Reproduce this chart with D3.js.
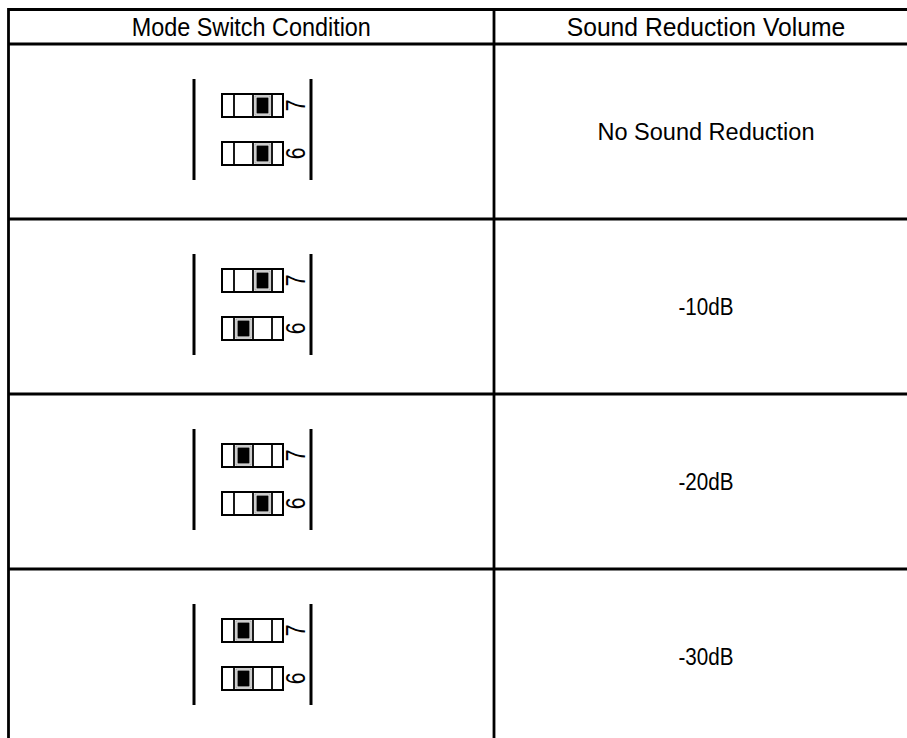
<!DOCTYPE html>
<html>
<head>
<meta charset="utf-8">
<script src="https://cdn.jsdelivr.net/npm/d3@7"></script>
<style>
  body { margin: 0; background: #fff; }
  svg { display: block; }
</style>
</head>
<body>
<div id="chart"></div>
<script>
// column headers
const headers = ["Mode Switch Condition", "Sound Reduction Volume"];
// switch 7 and switch 6 position per row
const switch7 = ["right", "right", "left", "left"];
const switch6 = ["right", "left", "right", "left"];
const switchLabels = ["7", "6"];
// reduction per row
const volumes = ["No Sound Reduction", "-10dB", "-20dB", "-30dB"];

const width = 907, height = 738;

const svg = d3.select("#chart").append("svg")
    .attr("width", width)
    .attr("height", height);

const x = d3.scaleOrdinal()
    .domain([0, 1, 2])
    .range([8.5, 494, 918]);

const headTop = 9.5, headBottom = 44;
const rowH = 175;

const y = d3.scaleBand()
    .domain(d3.range(volumes.length))
    .range([headBottom, headBottom + rowH * volumes.length])
    .padding(0);

const rows = volumes.map((v, i) => ({ i, vol: v, sw: [switch7[i], switch6[i]] }));

// grid lines
const lines = svg.append("g").attr("stroke", "#000").attr("stroke-width", 2.8);
lines.append("line").attr("x1", x(0)).attr("x2", width).attr("y1", headTop).attr("y2", headTop);
lines.append("line").attr("x1", x(0)).attr("x2", width).attr("y1", headBottom).attr("y2", headBottom);
lines.selectAll(".hrow")
    .data(rows.slice(0, -1))
    .enter().append("line")
    .attr("class", "hrow")
    .attr("x1", x(0)).attr("x2", width)
    .attr("y1", d => y(d.i) + y.bandwidth())
    .attr("y2", d => y(d.i) + y.bandwidth());
lines.append("line").attr("x1", x(0)).attr("x2", x(0)).attr("y1", headTop - 1.4).attr("y2", height);
lines.append("line").attr("x1", x(1)).attr("x2", x(1)).attr("y1", headTop - 1.4).attr("y2", height);

// header text (narrow look)
svg.selectAll(".head")
    .data(headers)
    .enter().append("text")
    .attr("class", "head")
    .attr("transform", (d, i) => `translate(${(x(i) + x(i + 1)) / 2},${(headTop + headBottom) / 2}) scale(${i === 0 ? 0.9 : 0.95},1)`)
    .attr("dy", "0.36em")
    .attr("text-anchor", "middle")
    .style("font-family", "'Liberation Sans', Arial, sans-serif")
    .style("font-size", "26px")
    .text(d => d);

// volume column
svg.selectAll(".vol")
    .data(rows)
    .enter().append("text")
    .attr("class", "vol")
    .attr("transform", d => `translate(${(x(1) + x(2)) / 2},${y(d.i) + y.bandwidth() / 2}) scale(${d.i === 0 ? 0.98 : 0.86},1)`)
    .attr("dy", "0.36em")
    .attr("text-anchor", "middle")
    .style("font-family", "'Liberation Sans', Arial, sans-serif")
    .style("font-size", "24px")
    .text(d => d.vol);

// switch icons
const boxX = 222, boxW = 61, boxH = 23;
const cellEdges = [0, 12, 31, 50, 61];
const icons = svg.selectAll(".icon")
    .data(rows)
    .enter().append("g")
    .attr("class", "icon")
    .attr("transform", d => `translate(0,${y(d.i)})`);

icons.append("line").attr("x1", 194).attr("x2", 194).attr("y1", 35).attr("y2", 136)
    .attr("stroke", "#000").attr("stroke-width", 3);
icons.append("line").attr("x1", 311).attr("x2", 311).attr("y1", 35).attr("y2", 136)
    .attr("stroke", "#000").attr("stroke-width", 3);

const sw = icons.selectAll(".sw")
    .data(d => d.sw.map((p, k) => ({ pos: p, label: switchLabels[k], k })))
    .enter().append("g")
    .attr("class", "sw")
    .attr("transform", d => `translate(${boxX},${d.k === 0 ? 50 : 98})`);

sw.append("rect")
    .attr("width", boxW).attr("height", boxH)
    .attr("fill", "#fff").attr("stroke", "#000").attr("stroke-width", 2);
sw.selectAll(".div")
    .data(cellEdges.slice(1, -1))
    .enter().append("line")
    .attr("x1", d => d).attr("x2", d => d)
    .attr("y1", 0).attr("y2", boxH)
    .attr("stroke", "#000").attr("stroke-width", 1.8);
sw.append("rect")
    .attr("x", d => (d.pos === "right" ? cellEdges[2] : cellEdges[1]) + 2)
    .attr("y", 2)
    .attr("width", 15).attr("height", boxH - 4)
    .attr("fill", "none").attr("stroke", "#999").attr("stroke-width", 1);
sw.append("rect")
    .attr("x", d => (d.pos === "right" ? cellEdges[2] : cellEdges[1]) + 3.5)
    .attr("y", 3.5)
    .attr("width", 12).attr("height", boxH - 7)
    .attr("fill", "#000");
sw.append("text")
    .attr("transform", `translate(${boxW + 22},${boxH / 2}) rotate(-90) scale(0.78,1)`)
    .attr("text-anchor", "middle")
    .style("font-family", "'Liberation Sans', Arial, sans-serif")
    .style("font-size", "27px")
    .text(d => d.label);
</script>
</body>
</html>
